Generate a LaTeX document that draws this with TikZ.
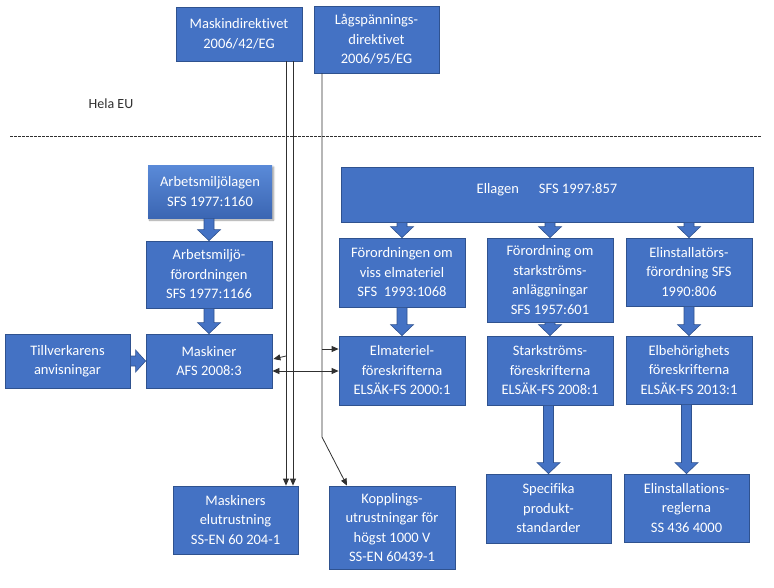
\documentclass[tikz,border=0pt]{standalone}
\usepackage{fontspec}
\setmainfont[Ligatures=NoCommon]{Carlito}
\usetikzlibrary{arrows.meta,calc,shadows.blur}
\definecolor{boxblue}{HTML}{4472C4}
\definecolor{boxedge}{HTML}{2F528F}
\definecolor{gradtop}{HTML}{5A8AD8}
\definecolor{gradbot}{HTML}{3B66B3}
\definecolor{linegray}{HTML}{303030}
\newcommand\vblk[2]{\filldraw[blk] let \p1=(#2.north), \p2=(#1.south -| #2.north) in
  (\x1-5,\y2) -- (\x1+5,\y2) -- (\x1+5,\y1+11) -- (\x1+11.5,\y1+11) -- (\x1,\y1)
  -- (\x1-11.5,\y1+11) -- (\x1-5,\y1+11) -- cycle;}
\newcommand\hblk[2]{\filldraw[blk] let \p1=(#2.west), \p2=(#1.east |- #2.west) in
  (\x2,\y1+5) -- (\x1-10,\y1+5) -- (\x1-10,\y1+11) -- (\x1,\y1) -- (\x1-10,\y1-11)
  -- (\x1-10,\y1-5) -- (\x2,\y1-5) -- cycle;}
\begin{document}
\begin{tikzpicture}[x=1pt,y=-1pt,
  box/.style={draw=boxedge, line width=0.8pt, fill=boxblue, text=white, align=center,
    inner sep=0pt, font=\fontsize{14.5}{19.5}\selectfont},
  blk/.style={fill=boxblue, draw=boxedge, line width=0.6pt},
  conn/.style={draw=linegray, line width=0.8pt, -{Triangle[length=7pt,width=6pt]}},
  conn2/.style={draw=linegray, line width=0.8pt, {Triangle[length=7pt,width=6pt]}-{Triangle[length=7pt,width=6pt]}},
  plain/.style={draw=linegray, line width=0.8pt}]
\useasboundingbox (0,0) rectangle (774,587);

% EU level
\node[box, minimum width=126pt, minimum height=54pt] (md) at (239,34) {Maskindirektivet\\2006/42/EG};
\node[box, minimum width=125pt, minimum height=67pt] (lsd) at (376.5,39.5) {Lågspännings-\\direktivet\\2006/95/EG};
\node[text=linegray, font=\fontsize{14}{18}\selectfont] (eu) at (111,104) {Hela EU};
\coordinate (dl) at (10,136);
\coordinate (dr) at (762,136);
\draw[draw=linegray, line width=0.7pt, dash pattern=on 2.5pt off 1.5pt] (dl) -- (dr);

% Left column
\node[box, draw=none, top color=gradtop, bottom color=gradbot, minimum width=124pt, minimum height=53pt,
  blur shadow={shadow xshift=1.5pt, shadow yshift=-2pt, shadow blur steps=6, shadow opacity=40}] (aml) at (210,191.5) {Arbetsmiljölagen\\SFS 1977:1160};
\node[box, minimum width=126pt, minimum height=67pt] (amf) at (209,274.5) {Arbetsmiljö-\\förordningen\\SFS 1977:1166};
\node[box, minimum width=126pt, minimum height=54pt] (mask) at (209,361) {Maskiner\\AFS 2008:3};
\node[box, minimum width=125pt, minimum height=54pt] (tillv) at (67.5,361) {Tillverkarens\\anvisningar};

% Right block
\node[box, minimum width=412pt, minimum height=55pt, text height=10pt, text depth=12pt] (ell) at (547,194.5) {Ellagen\hspace{20pt}SFS 1997:857};
\node[box, minimum width=126pt, minimum height=69pt] (fviss) at (402,272.5) {Förordningen om\\viss elmateriel\\SFS\ \ 1993:1068};
\node[box, minimum width=126pt, minimum height=84pt] (fstark) at (550,280) {Förordning om\\starkströms-\\anläggningar\\SFS 1957:601};
\node[box, minimum width=126pt, minimum height=68pt] (finst) at (689,272) {Elinstallatörs-\\förordning SFS\\1990:806};
\node[box, minimum width=126pt, minimum height=69pt] (elmat) at (402,370.5) {Elmateriel-\\föreskrifterna\\ELSÄK-FS 2000:1};
\node[box, minimum width=126pt, minimum height=69pt] (starkf) at (550,370.5) {Starkströms-\\föreskrifterna\\ELSÄK-FS 2008:1};
\node[box, minimum width=126pt, minimum height=68pt] (elbeh) at (689,370) {Elbehörighets\\föreskrifterna\\ELSÄK-FS 2013:1};
\node[box, minimum width=125pt, minimum height=69pt] (spec) at (548.5,508.5) {Specifika\\produkt-\\standarder};
\node[box, minimum width=125pt, minimum height=68pt] (elinr) at (686.5,508) {Elinstallations-\\reglerna\\SS 436 4000};

% Bottom standards
\node[box, minimum width=125pt, minimum height=68pt] (maskel) at (235.5,520) {Maskiners\\elutrustning\\SS-EN 60 204-1};
\node[box, minimum width=126pt, minimum height=83pt] (kopp) at (392,527.5) {Kopplings-\\utrustningar för\\högst 1000 V\\SS-EN 60439-1};

% Block arrows
\vblk{aml}{amf}
\vblk{amf}{mask}
\hblk{tillv}{mask}
\vblk{ell}{fviss}
\vblk{ell}{fstark}
\vblk{ell}{finst}
\vblk{fviss}{elmat}
\vblk{fstark}{starkf}
\vblk{finst}{elbeh}
\vblk{starkf}{spec}
\vblk{elbeh}{elinr}

% Thin connectors
\coordinate (xa) at (286,0);
\coordinate (xb) at (293,0);
\coordinate (xc) at (322,0);
\coordinate (bend) at (322,437);
\coordinate (kt) at (347,0);
\coordinate (b1) at (286,356);
\coordinate (b2) at (322,349);
\coordinate (yd) at (0,371);
\draw[conn] (md.south -| xa) -- (maskel.north -| xa);
\draw[conn] (md.south -| xb) -- (maskel.north -| xb);
\draw[conn] (b1) -- ($(mask.east)+(1,-2)$);
\draw[conn] (lsd.south -| xc) -- (bend) -- (kopp.north -| kt);
\draw[conn] (b2) -- (elmat.west |- b2);
\draw[conn2] (mask.east |- yd) -- (elmat.west |- yd);
\end{tikzpicture}
\end{document}
